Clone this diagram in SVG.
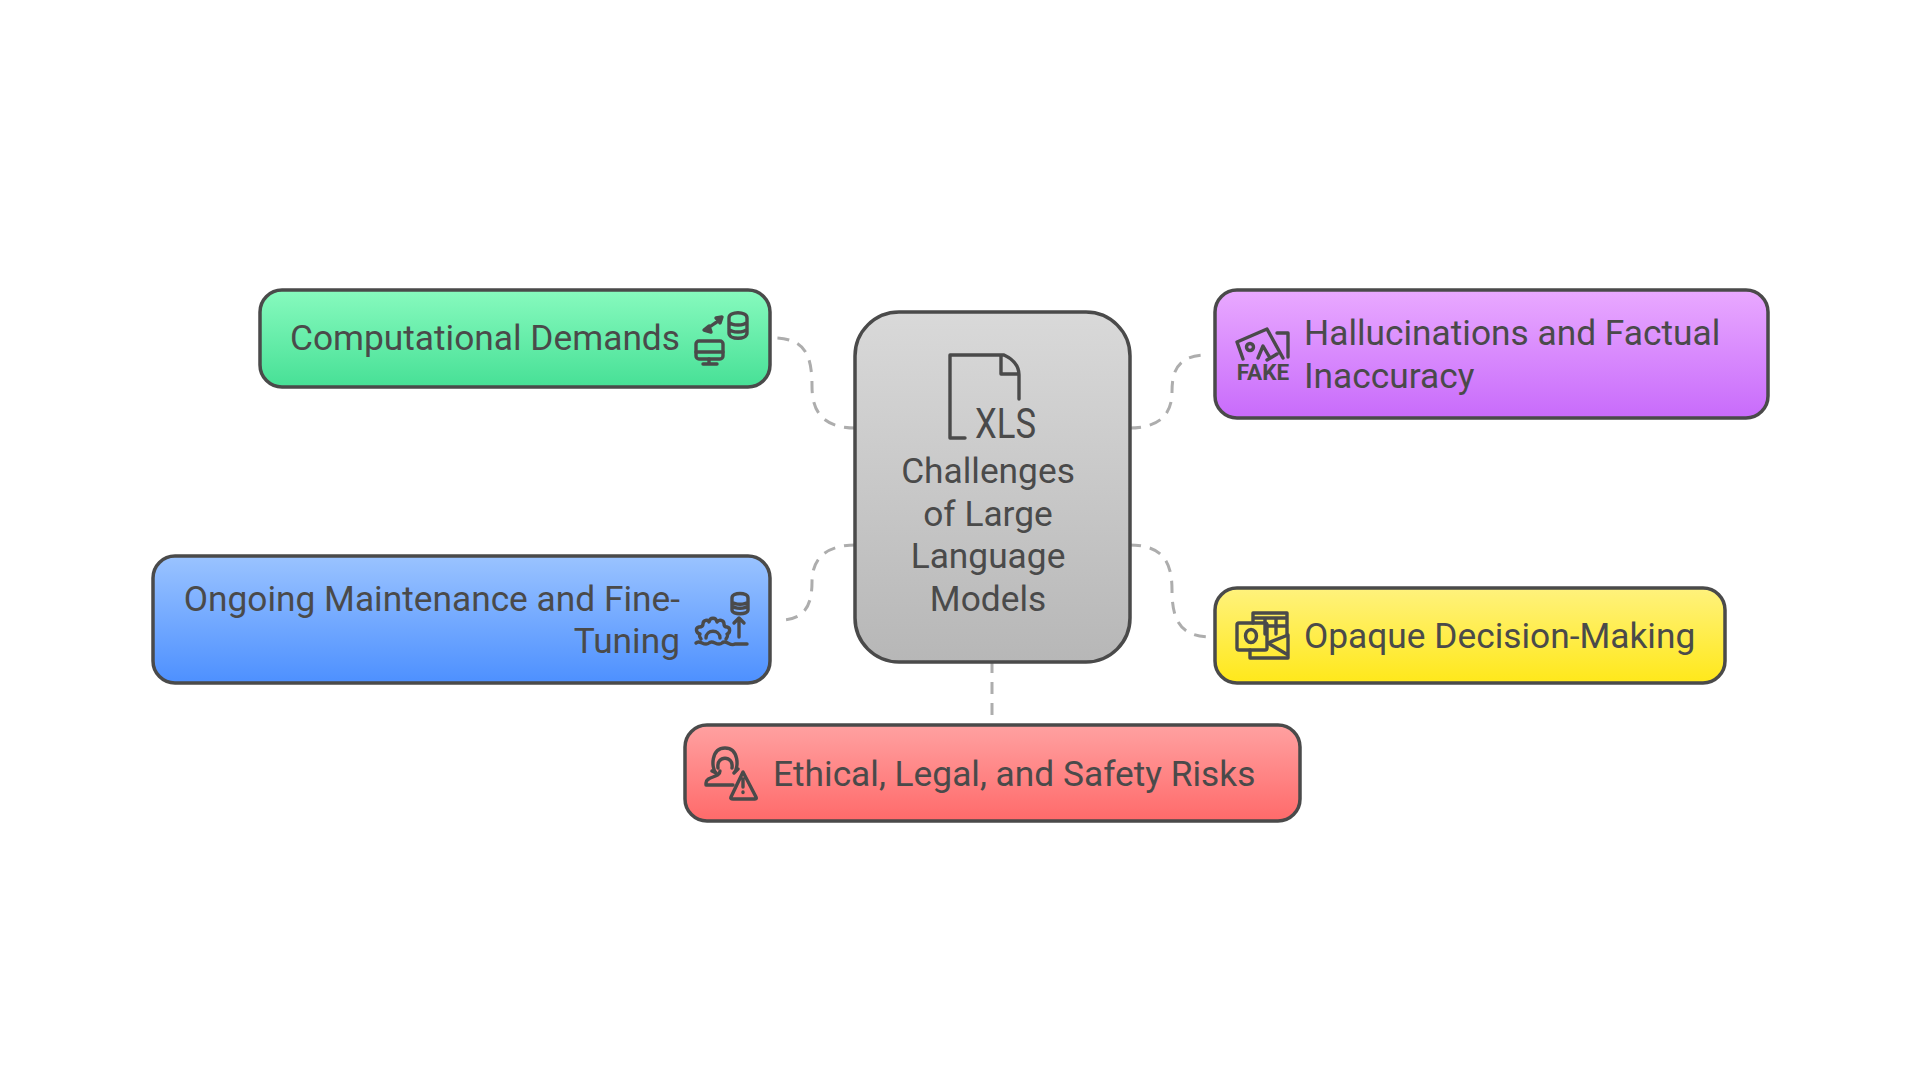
<svg xmlns="http://www.w3.org/2000/svg" width="1920" height="1080" viewBox="0 0 1920 1080">
<style>
.box{stroke:#4a4a4a;stroke-width:3.5}
.t{font-family:Roboto,"Liberation Sans",sans-serif;font-size:35.3px;fill:#4a4a4a}
.e{text-anchor:end}
.m{text-anchor:middle}
.i{fill:none;stroke:#4a4a4a;stroke-width:3.4;stroke-linecap:round;stroke-linejoin:round}
.c{fill:none;stroke:#adadad;stroke-width:3;stroke-dasharray:12 9}
</style>
<defs>
<linearGradient id="gGreen" x1="0" y1="0" x2="0" y2="1"><stop offset="0" stop-color="#87fabe"/><stop offset="1" stop-color="#47e096"/></linearGradient>
<linearGradient id="gGray" x1="0" y1="0" x2="0" y2="1"><stop offset="0" stop-color="#d9d9d9"/><stop offset="1" stop-color="#b7b7b7"/></linearGradient>
<linearGradient id="gPurple" x1="0" y1="0" x2="0" y2="1"><stop offset="0" stop-color="#e9a9ff"/><stop offset="1" stop-color="#c86bfb"/></linearGradient>
<linearGradient id="gYellow" x1="0" y1="0" x2="0" y2="1"><stop offset="0" stop-color="#fff27d"/><stop offset="1" stop-color="#ffe81a"/></linearGradient>
<linearGradient id="gBlue" x1="0" y1="0" x2="0" y2="1"><stop offset="0" stop-color="#9ac3ff"/><stop offset="1" stop-color="#4d90ff"/></linearGradient>
<linearGradient id="gRed" x1="0" y1="0" x2="0" y2="1"><stop offset="0" stop-color="#ffa1a1"/><stop offset="1" stop-color="#ff6a6a"/></linearGradient>
</defs>
<rect width="1920" height="1080" fill="#ffffff"/>
<g id="connectors">
<path class="c" d="M856,428 C822,428 812,411 812,386 C812,355 805,338 773,338"/>
<path class="c" d="M856,545 C822,545 812,562 812,582 C812,605 805,620 780,620"/>
<path class="c" d="M1129,428 C1163,428 1172,411 1172,392 C1172,370 1178,355 1208,355"/>
<path class="c" d="M1129,545 C1163,545 1172,562 1172,590 C1172,620 1180,637 1212,637"/>
<path class="c" d="M992,661 V716"/>
</g>
<g id="node-center">
<rect class="box" x="855" y="312" width="275" height="350" rx="44" fill="url(#gGray)"/>
<path class="i" d="M1019,399 V375 Q1019,362 1004,355 H950 V438 H965 M1001,355 V374 H1019"/>
<text x="975" y="438" textLength="61" lengthAdjust="spacingAndGlyphs" font-family="Roboto,'Liberation Sans',sans-serif" font-size="42" fill="#4a4a4a">XLS</text>
<text class="t m" x="988" y="483">Challenges</text>
<text class="t m" x="988" y="526">of Large</text>
<text class="t m" x="988" y="568">Language</text>
<text class="t m" x="988" y="611">Models</text>
</g>
<g id="node-computational">
<rect class="box" x="260" y="290" width="510" height="97" rx="22" fill="url(#gGreen)"/>
<text class="t e" x="680" y="350">Computational Demands</text>
<path class="i" d="M729,318 C729,311 747,311 747,318 V333 C747,340 729,340 729,333 Z M729,322 C732,326 744,326 747,322 M729,329 C732,333 744,333 747,329"/>
<path class="i" d="M708,329 C710,325 714,325 719,320 M704,330 L711,332 L709,326 Z M722,317 L716,318 L720,323 Z"/>
<rect class="i" x="696" y="341" width="27" height="18" rx="3"/>
<path class="i" d="M696,352 H723 M709,359 V364 M703,364 H717"/>
</g>
<g id="node-maintenance">
<rect class="box" x="153" y="556" width="617" height="127" rx="22" fill="url(#gBlue)"/>
<text class="t e" x="680" y="611">Ongoing Maintenance and Fine-</text>
<text class="t e" x="680" y="653">Tuning</text>
<path class="i" d="M732,598 C732,592 748,592 748,598 V610 C748,615 732,615 732,610 Z M732,602 C735,605 745,605 748,602 M732,606 C735,609 745,609 748,606"/>
<path class="i" d="M739,637 V618 M734,623 L739,618 M744,623 L739,618"/>
<path class="i" d="M701,639 C699,636 699,635 700,634 C696,633 695,628 699,627 C702,627 703,626 703,624 C703,620 708,619 709,622 C710,617 716,617 717,622 C719,619 724,620 724,624 C724,626 725,627 727,627 C731,628 730,633 727,634 C728,635 728,636 726,639 M706,638 C706,629 720,629 720,638"/>
<path class="i" d="M696,643 C700,639 704,647 709,643 C713,639 717,647 722,643 C726,639 730,647 735,644 H747"/>
</g>
<g id="node-hallucinations">
<rect class="box" x="1215" y="290" width="553" height="128" rx="22" fill="url(#gPurple)"/>
<text class="t" x="1304" y="345">Hallucinations and Factual</text>
<text class="t" x="1304" y="388">Inaccuracy</text>
<path class="i" d="M1243,359 L1237,342 L1267,329 L1283,358 M1258,358 L1263,346 L1270,358 M1267,360 L1277,354 M1277,333 H1288 V357"/>
<circle class="i" cx="1250" cy="347" r="3.5"/>
<text x="1263" y="380" text-anchor="middle" font-family="Roboto,'Liberation Sans',sans-serif" font-weight="700" font-size="22.5" fill="#4a4a4a">FAKE</text>
</g>
<g id="node-opaque">
<rect class="box" x="1215" y="588" width="510" height="95" rx="22" fill="url(#gYellow)"/>
<text class="t" x="1304" y="648">Opaque Decision-Making</text>
<path class="i" d="M1253,623 V613 H1287 V634 M1253,618 H1287 M1265,618 V634 M1276,618 V634 M1265,626 H1287"/>
<rect class="i" x="1237" y="623" width="30" height="27" rx="2"/>
<ellipse class="i" cx="1251" cy="636" rx="5.5" ry="6.5"/>
<path class="i" d="M1250,650 V658 H1288 V635 L1268,643 L1288,655"/>
</g>
<g id="node-ethical">
<rect class="box" x="685" y="725" width="615" height="96" rx="22" fill="url(#gRed)"/>
<text class="t" x="773" y="786">Ethical, Legal, and Safety Risks</text>
<path class="i" d="M716,773 C711,768 711,748 725,748 C739,748 739,768 734,773 L738,769 M718,768 C716,755 734,755 732,768 M720,771 C720,778 706,776 706,783 V785 H733 M712,771 L716,773"/>
<path class="i" d="M743,772 L731,797 Q730,799 733,799 H755 Q757,799 756,797 Z M743,779 V787 M743,792 V792.5"/>
</g>
</svg>
